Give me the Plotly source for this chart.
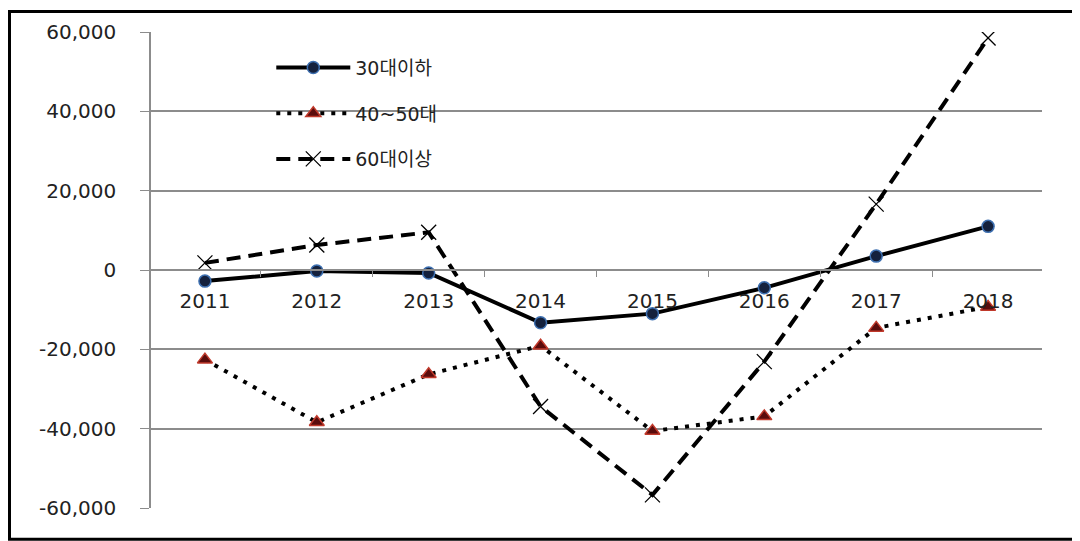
import plotly.graph_objects as go

years = ["2011", "2012", "2013", "2014", "2015", "2016", "2017", "2018"]
under30 = [-2800, -250, -750, -13300, -11000, -4500, 3500, 11000]
age40_50 = [-22600, -38400, -26300, -19100, -40600, -36900, -14600, -9300]
over60 = [1800, 6300, 9500, -34400, -56700, -23100, 16600, 58500]
y_ticks = [60000, 40000, 20000, 0, -20000, -40000, -60000]
y_tick_text = ["60,000", "40,000", "20,000", "0", "-20,000", "-40,000", "-60,000"]

# page body has an 8px margin, so the figure is sized/offset to compensate
W, H = 1072, 533
L, T = 143, 22
pw, ph = 891, 478
R, B = W - L - pw, H - T - ph

fig = go.Figure()
fig.add_trace(go.Scatter(
    x=years, y=under30, name="30대이하", mode="lines+markers", legendgroup="a",
    line=dict(color="black", width=4),
    marker=dict(symbol="circle", size=12, color="#14213d", line=dict(color="#3d6fb0", width=1.5)),
))
fig.add_trace(go.Scatter(
    x=years, y=age40_50, name="40~50대", mode="lines+markers", legendgroup="b",
    line=dict(color="black", width=4, dash="4px,7px"),
    marker=dict(symbol="triangle-up", size=13, color="#5a0c0c", line=dict(color="#c0392b", width=1.5)),
))
fig.add_trace(go.Scatter(
    x=years, y=over60, name="60대이상", mode="lines+markers", legendgroup="c",
    line=dict(color="black", width=4, dash="14px,8px"),
    marker=dict(symbol="x-thin", size=15, color="black", line=dict(color="black", width=1.3)),
))

fig.update_layout(
    width=W, height=H,
    margin=dict(l=L, r=R, t=T, b=B),
    paper_bgcolor="white", plot_bgcolor="white",
    font=dict(family="DejaVu Sans, Noto Sans CJK KR", size=20, color="#222"),
    showlegend=True,
    legend=dict(
        x=0.135, y=0.965, xanchor="left", yanchor="top",
        bgcolor="rgba(255,255,255,0)", font=dict(size=19, color="#222"),
        tracegroupgap=18, itemwidth=74,
    ),
    xaxis=dict(
        type="category", categoryorder="array", categoryarray=years,
        anchor="free", position=0.5,
        showgrid=False, showline=True, linecolor="#8c8c8c", linewidth=1.5,
        ticks="outside", tickson="boundaries", ticklen=6, tickcolor="#8c8c8c",
        ticklabelstandoff=13, zeroline=False,
    ),
    yaxis=dict(
        range=[-60000, 60000], tickvals=y_ticks, ticktext=y_tick_text,
        showgrid=True, gridcolor="#8c8c8c", gridwidth=1.5,
        showline=True, linecolor="#8c8c8c", linewidth=1.5,
        ticks="outside", ticklen=9, tickcolor="#8c8c8c",
        ticklabelstandoff=20, zeroline=False,
    ),
)

fig.add_shape(
    type="rect", xref="paper", yref="paper",
    x0=(1.5 - L) / pw, x1=(W - 1.5 - L) / pw,
    y0=(1.5 - B) / ph, y1=(H - 1.5 - B) / ph,
    line=dict(color="black", width=3), fillcolor="rgba(0,0,0,0)", layer="above",
)

fig.write_html("out.html")
